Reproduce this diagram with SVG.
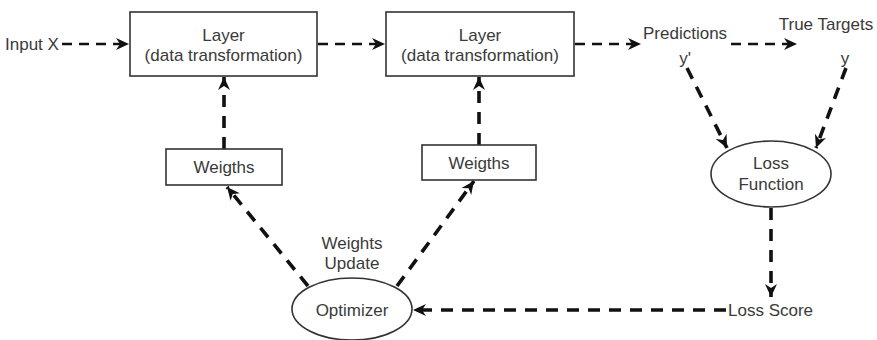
<svg xmlns="http://www.w3.org/2000/svg" width="877" height="340" viewBox="0 0 877 340">
<style>
  .box{fill:#fff;stroke:#333;stroke-width:1.6}
  .t{font-family:"Liberation Sans",Arial,sans-serif;font-size:17px;fill:#3a3a3a}
  .m{text-anchor:middle}
  .thin{fill:none;stroke:#111;stroke-width:2.6;stroke-dasharray:10 7}
  .thick{fill:none;stroke:#111;stroke-width:3.6;stroke-dasharray:12 9}
</style>
<defs>
  <marker id="ah" markerUnits="userSpaceOnUse" markerWidth="14" markerHeight="12" viewBox="0 0 14 12" refX="13" refY="6" orient="auto">
    <path d="M0,0 L13,6 L0,12 L4,6 z" fill="#111"/>
  </marker>
</defs>
<rect width="877" height="340" fill="#fff"/>
<g id="connectors">
  <line class="thin" x1="62" y1="44" x2="129" y2="44" marker-end="url(#ah)"/>
  <line class="thin" x1="318" y1="44" x2="385" y2="44" marker-end="url(#ah)"/>
  <line class="thin" x1="575" y1="44" x2="641" y2="44" marker-end="url(#ah)"/>
  <line class="thin" x1="731" y1="44" x2="797" y2="44" marker-end="url(#ah)"/>
  <line class="thick" x1="687" y1="68" x2="727" y2="148" marker-end="url(#ah)"/>
  <line class="thick" x1="846" y1="68" x2="816" y2="148" marker-end="url(#ah)"/>
  <line class="thick" x1="771" y1="208" x2="771" y2="297" marker-end="url(#ah)"/>
  <line class="thick" x1="726" y1="310" x2="413" y2="310" marker-end="url(#ah)"/>
  <line class="thick" x1="308" y1="286" x2="227" y2="187" marker-end="url(#ah)"/>
  <line class="thick" x1="397" y1="286" x2="474" y2="181" marker-end="url(#ah)"/>
  <line class="thick" x1="224" y1="149" x2="224" y2="77" marker-end="url(#ah)"/>
  <line class="thick" x1="479" y1="145" x2="479" y2="77" marker-end="url(#ah)"/>
</g>
<g id="input"><text class="t" x="5" y="50">Input X</text></g>
<g id="layer1">
  <rect class="box" x="130" y="12" width="187" height="64"/>
  <text class="t m" x="223.5" y="41">Layer</text>
  <text class="t m" x="223.5" y="61">(data transformation)</text>
</g>
<g id="layer2">
  <rect class="box" x="386" y="12" width="188" height="64"/>
  <text class="t m" x="480" y="41">Layer</text>
  <text class="t m" x="480" y="61">(data transformation)</text>
</g>
<g id="predictions">
  <text class="t" x="643" y="39">Predictions</text>
  <text class="t m" x="685" y="64">y'</text>
</g>
<g id="targets">
  <text class="t m" x="826" y="30">True Targets</text>
  <text class="t m" x="845" y="64">y</text>
</g>
<g id="loss">
  <ellipse class="box" cx="771" cy="174" rx="60" ry="33"/>
  <text class="t m" x="771" y="169">Loss</text>
  <text class="t m" x="771" y="190">Function</text>
</g>
<g id="lossscore"><text class="t" x="728" y="316">Loss Score</text></g>
<g id="optimizer">
  <ellipse class="box" cx="352" cy="309" rx="60" ry="31"/>
  <text class="t m" x="352" y="316">Optimizer</text>
</g>
<g id="weightsupdate">
  <text class="t m" x="352" y="249">Weights</text>
  <text class="t m" x="352" y="269">Update</text>
</g>
<g id="weights1">
  <rect class="box" x="166" y="149" width="116" height="36"/>
  <text class="t m" x="224" y="173">Weigths</text>
</g>
<g id="weights2">
  <rect class="box" x="422" y="145" width="114" height="35"/>
  <text class="t m" x="479" y="168.5">Weigths</text>
</g>
</svg>
